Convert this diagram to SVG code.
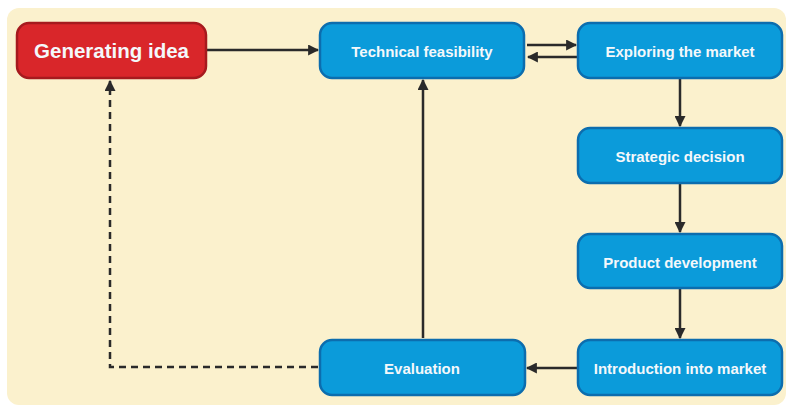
<svg xmlns="http://www.w3.org/2000/svg" width="786" height="410" viewBox="0 0 786 410">
<defs>
<marker id="ah" viewBox="0 0 10 10" refX="9" refY="5" markerWidth="11" markerHeight="11" markerUnits="userSpaceOnUse" orient="auto">
<path d="M0,0 L10,5 L0,10 z" fill="#2a2a2a"/>
</marker>
<style>
.bg{fill:#FBF1CD}
.blue{fill:#0B9BDA;stroke:#0C6DAE;stroke-width:2.5}
.red{fill:#D9262A;stroke:#A61A1E;stroke-width:2.5}
.t{font-family:"Liberation Sans",Arial,sans-serif;font-weight:bold;fill:#F4F8FB;text-anchor:middle;dominant-baseline:central}
.s{font-size:15px}
.l{font-size:20.5px}
.c{stroke:#2a2a2a;stroke-width:2.5;fill:none}
.d{stroke-dasharray:7,5}
</style>
</defs>
<rect class="bg" x="7" y="8" width="779" height="397" rx="12"/>
<g id="connectors">
<line class="c" x1="207" y1="50" x2="318" y2="50" marker-end="url(#ah)"/>
<line class="c" x1="527" y1="45" x2="576" y2="45" marker-end="url(#ah)"/>
<line class="c" x1="577" y1="57" x2="528" y2="57" marker-end="url(#ah)"/>
<line class="c" x1="680" y1="79" x2="680" y2="126" marker-end="url(#ah)"/>
<line class="c" x1="680" y1="184" x2="680" y2="232" marker-end="url(#ah)"/>
<line class="c" x1="680" y1="289" x2="680" y2="338" marker-end="url(#ah)"/>
<line class="c" x1="577" y1="368" x2="527" y2="368" marker-end="url(#ah)"/>
<line class="c" x1="423" y1="338" x2="423" y2="80" marker-end="url(#ah)"/>
<polyline class="c d" points="318,367 110,367 110,81" marker-end="url(#ah)"/>
</g>
<g id="generating-idea">
<rect class="red" x="17" y="23" width="189" height="55" rx="12"/>
<text class="t l" x="111.5" y="50.5">Generating idea</text>
</g>
<g id="technical-feasibility">
<rect class="blue" x="320" y="23" width="204" height="55" rx="12"/>
<text class="t s" x="422" y="51">Technical feasibility</text>
</g>
<g id="exploring-the-market">
<rect class="blue" x="578" y="23" width="204" height="55" rx="12"/>
<text class="t s" x="680" y="51">Exploring the market</text>
</g>
<g id="strategic-decision">
<rect class="blue" x="578" y="128" width="204" height="55" rx="12"/>
<text class="t s" x="680" y="156">Strategic decision</text>
</g>
<g id="product-development">
<rect class="blue" x="578" y="234" width="204" height="54" rx="12"/>
<text class="t s" x="680" y="262">Product development</text>
</g>
<g id="introduction-into-market">
<rect class="blue" x="578" y="340" width="204" height="55" rx="12"/>
<text class="t s" x="680" y="368">Introduction into market</text>
</g>
<g id="evaluation">
<rect class="blue" x="320" y="340" width="205" height="55" rx="12"/>
<text class="t s" x="422" y="368">Evaluation</text>
</g>
</svg>
